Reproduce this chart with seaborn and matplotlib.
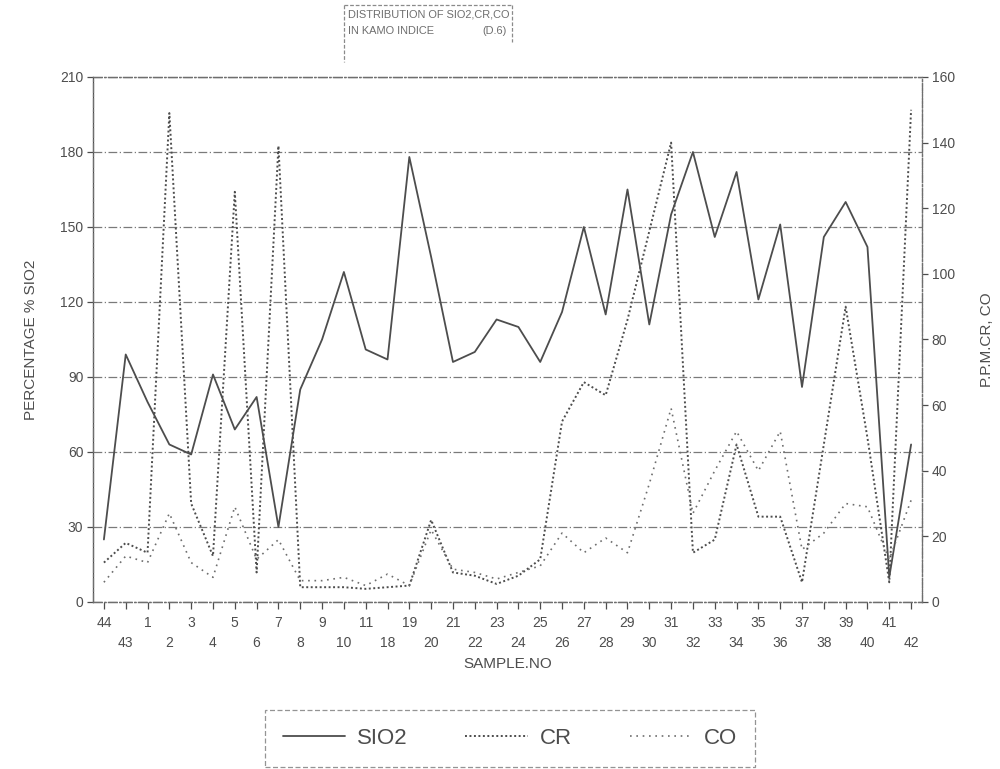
import matplotlib
matplotlib.use("Agg")
import numpy as np
import pandas as pd
import matplotlib.pyplot as plt
import seaborn as sns
from matplotlib.lines import Line2D

# Sample numbers in the order they were logged along the traverse
samples = ["44", "43", "1", "2", "3", "4", "5", "6", "7", "8", "9", "10", "11",
           "18", "19", "20", "21", "22", "23", "24", "25", "26", "27", "28",
           "29", "30", "31", "32", "33", "34", "35", "36", "37", "38", "39",
           "40", "41", "42"]

# SiO2 in percent (left axis)
sio2 = [25, 99, 80, 63, 59, 91, 69, 82, 30, 85, 105, 132, 101, 97, 178, 138,
        96, 100, 113, 110, 96, 116, 150, 115, 165, 111, 155, 180, 146, 172,
        121, 151, 86, 146, 160, 142, 10, 63]

# Cr in ppm (right axis)
cr = [12, 18, 15, 149, 30, 14, 125, 9, 139, 4.5, 4.5, 4.5, 4, 4.5, 5, 25,
      9, 8, 5.5, 8, 13, 55, 67, 63, 86, 113, 140, 15, 19, 48, 26, 26, 6, 48,
      90, 50, 6, 150]

# Co in ppm (right axis)
co = [6, 14, 12, 27, 12, 7.5, 29, 13, 19, 6.5, 6.5, 7.5, 5, 8.5, 5, 22, 10,
      9, 7, 9, 11, 21, 15, 19.5, 15, 36, 59, 27, 40, 52, 40, 52, 16, 21, 30,
      29, 13, 31]

left_ticks = [0, 30, 60, 90, 120, 150, 180, 210]
right_ticks = [0, 20, 40, 60, 80, 100, 120, 140, 160]

sns.set_style("white")
plt.rcParams["font.family"] = ["Liberation Sans", "DejaVu Sans"]

ink = "#4d4d4d"
soft = "#6e6e6e"

df = pd.DataFrame({"pos": np.arange(len(samples)), "sample": samples,
                   "SIO2": sio2, "CR": cr, "CO": co})

fig = plt.figure(figsize=(10, 7.69), dpi=100)
ax = fig.add_axes([0.093, 0.2172, 0.829, 0.6827])
ax2 = ax.twinx()

sio2_style = dict(color=ink, lw=1.3, linestyle="-")
cr_style = dict(color=ink, lw=1.4, linestyle=(0, (1, 1.3)))
co_style = dict(color=soft, lw=1.2, linestyle=(0, (1, 2.8)))

sns.lineplot(data=df, x="pos", y="SIO2", ax=ax, sort=False, **sio2_style)
sns.lineplot(data=df, x="pos", y="CR", ax=ax2, sort=False, **cr_style)
sns.lineplot(data=df, x="pos", y="CO", ax=ax2, sort=False, **co_style)

ax.set_xlim(-0.5, len(samples) - 0.5)
ax.set_ylim(0, 210)
ax2.set_ylim(0, 160)

# dash-dot horizontal grid on the percentage scale
ax.set_axisbelow(True)
ax.yaxis.grid(True, color="#7a7a7a", lw=0.9, linestyle=(0, (7, 2, 1, 2)))
ax.xaxis.grid(False)
ax2.grid(False)

ax.set_yticks(left_ticks)
ax.set_yticklabels([str(t) for t in left_ticks])
ax2.set_yticks(right_ticks)
ax2.set_yticklabels([str(t) for t in right_ticks])

# sample labels staggered over two rows
ax.set_xticks(df["pos"])
ax.set_xticklabels([s if i % 2 == 0 else "\n" + s for i, s in enumerate(samples)])
for lbl in ax.get_xticklabels():
    lbl.set_linespacing(1.55)

ax.tick_params(axis="x", length=5, width=0.9, color=ink, labelsize=10,
               labelcolor=ink, pad=5, direction="out", bottom=True)
ax.tick_params(axis="y", length=4, width=0.9, color=ink, labelsize=10,
               labelcolor=ink, pad=3, direction="out", left=True)
ax2.tick_params(axis="y", length=4, width=0.9, color=ink, labelsize=10,
                labelcolor=ink, pad=3, direction="out", right=True)

for a in (ax, ax2):
    for side, sp in a.spines.items():
        sp.set_visible(True)
        sp.set_color(soft)
        sp.set_linewidth(0.9)
        sp.set_linestyle((0, (7, 2, 1, 2)))
ax.spines["left"].set_linestyle("-")
ax.spines["left"].set_color(ink)
ax2.spines["right"].set_linestyle((0, (2, 1.5)))

ax.set_xlabel("SAMPLE.NO", fontsize=11, color=ink, labelpad=5)
ax.set_ylabel("PERCENTAGE % SIO2", fontsize=11, color=ink, labelpad=16)
ax2.set_ylabel("P.P.M.CR, CO", fontsize=11, color=ink, labelpad=18)

# boxed heading
head_font = dict(fontsize=7.9, color=soft)
fig.text(0.348, 0.987, "DISTRIBUTION OF SIO2,CR,CO", ha="left", va="top",
         **head_font)
fig.text(0.348, 0.966, "IN KAMO INDICE", ha="left", va="top", **head_font)
fig.text(0.507, 0.966, "(D.6)", ha="right", va="top", **head_font)
box_kw = dict(color="#8a8a8a", lw=0.9, linestyle=(0, (3, 1.5)),
              transform=fig.transFigure)
fig.add_artist(Line2D([0.344, 0.512], [0.994, 0.994], **box_kw))
fig.add_artist(Line2D([0.344, 0.344], [0.994, 0.919], **box_kw))
fig.add_artist(Line2D([0.512, 0.512], [0.994, 0.946], **box_kw))

handles = [Line2D([], [], **sio2_style), Line2D([], [], **cr_style),
           Line2D([], [], **co_style)]
leg = fig.legend(handles, ["SIO2", "CR", "CO"], loc="center",
                 bbox_to_anchor=(0.51, 0.04), ncol=3, fontsize=16,
                 frameon=True, fancybox=False, handlelength=2.8,
                 columnspacing=2.6, borderpad=0.8, handletextpad=0.55,
                 labelcolor=ink)
frame = leg.get_frame()
frame.set_edgecolor("#7a7a7a")
frame.set_linestyle((0, (4, 2)))
frame.set_linewidth(0.9)

fig.savefig("out.png", dpi=100, facecolor="white")
